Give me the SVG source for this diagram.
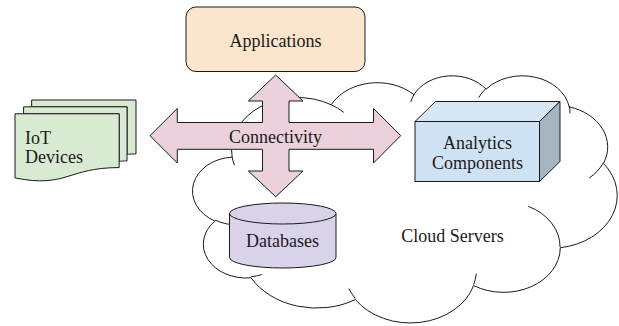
<svg xmlns="http://www.w3.org/2000/svg" width="619" height="326" viewBox="0 0 619 326">
  <style>
    .shape { stroke: #1a1a1a; stroke-width: 1; stroke-linejoin: miter; }
    .thin { fill: none; stroke: #1a1a1a; stroke-width: 1; vector-effect: non-scaling-stroke; }
    text { font-family: 'Liberation Serif', 'Times New Roman', 'DejaVu Serif', serif; font-size: 18px; fill: #1a1a1a; }
    .mid { text-anchor: middle; }
  </style>
  <rect width="619" height="326" fill="#ffffff"/>

  <!-- Cloud outline (43200-unit geometry scaled into its box) -->
  <g id="cloud-servers">
    <g transform="translate(194 75) scale(0.009792 0.005718)">
      <path fill="#ffffff" class="thin" d="M 3900 14370
        A 6753 9190 0 0 1 14006.5 5203.3
        A 5333 7267 0 0 1 22457.1 3433.5
        A 4365 5945 0 0 1 29832.1 2477
        A 4857 6595 0 0 1 38317.4 5572.2
        A 5333 7273 0 0 1 41817.9 15456
        A 6775 9220 0 0 1 37407.2 30204.7
        A 5785 7867 0 0 1 28559 36815.1
        A 6752 9215 0 0 1 16483.7 39267.1
        A 7720 10543 0 0 1 5822.9 35458.7
        A 4360 5918 0 0 1 2131.4 25537.2
        A 4345 5945 0 0 1 3900 14370 Z"/>
      <!-- inner lobe creases -->
      <path class="thin" d="M 4693 26177 A 4345 5945 0 0 1 2159.8 25380
        M 6928 34899 A 4360 5918 0 0 1 5818.9 35280.8
        M 16478 39090 A 6752 9215 0 0 1 15810 37349
        M 28827 34751 A 6752 9215 0 0 1 28560 36660
        M 34129 22954 A 5785 7867 0 0 1 37380.5 30089.7
        M 41798 15354 A 5333 7273 0 0 1 40350 18030
        M 38324 5426 A 4857 6595 0 0 1 38400 6690
        M 29078 3952 A 4857 6595 0 0 1 29819.5 2340.5
        M 22141 4720 A 4365 5945 0 0 1 22500 3331
        M 14000 5192 A 6753 9190 0 0 1 15298 6539
        M 4127 15789 A 6753 9190 0 0 1 3900 14370"/>
    </g>
    <text class="mid" x="452.5" y="241.5" font-family="Liberation Serif, serif">Cloud Servers</text>
  </g>

  <!-- Applications -->
  <g id="applications">
    <rect class="shape" x="186" y="7" width="179" height="64.5" rx="10" ry="10" fill="#fce5cd"/>
    <text class="mid" x="275.5" y="47">Applications</text>
  </g>

  <!-- IoT devices: stacked documents -->
  <g id="iot-devices">
    <path class="shape" fill="#d9ead3" d="M 31.65 106.8 L 31.65 100 L 136 100 L 136 153.97 C 131.52 153.97 127.04 154.25 127.04 154.25 L 127.04 106.8 Z"/>
    <path class="shape" fill="#d9ead3" d="M 23.58 113.78 L 23.58 106.8 L 127.04 106.8 L 127.04 160.95 C 123.1 160.95 119.17 161.32 119.17 161.32 L 119.17 113.78 Z"/>
    <path class="shape" fill="#d9ead3" d="M 15 177.93 C 67.09 188.28 67.09 167.58 119.17 167.58 L 119.17 113.78 L 15 113.78 Z"/>
    <text x="25" y="143.5">IoT</text>
    <text x="25" y="162.5">Devices</text>
  </g>

  <!-- Analytics cube -->
  <g id="analytics-components">
    <rect class="shape" x="415" y="121.5" width="124.5" height="60" fill="#cfe2f3"/>
    <path class="shape" fill="#d8e7f5" d="M 415 121.5 L 435.5 101.5 L 560 101.5 L 539.5 121.5 Z"/>
    <path class="shape" fill="#a6b5c2" d="M 539.5 121.5 L 560 101.5 L 560 161.5 L 539.5 181.5 Z"/>
    <text class="mid" x="477.5" y="148.5">Analytics</text>
    <text class="mid" x="477.5" y="168.5">Components</text>
  </g>

  <!-- Databases cylinder -->
  <g id="databases">
    <path class="shape" fill="#d9d2e9" d="M 229.5 213.5 L 229.5 257.5 A 53.25 10.5 0 0 0 336 257.5 L 336 213.5 Z"/>
    <ellipse class="shape" cx="282.75" cy="213.5" rx="53.25" ry="10.5" fill="#d9d2e9"/>
    <text class="mid" x="282.5" y="246.5">Databases</text>
  </g>

  <!-- Four-way connectivity arrow -->
  <g id="connectors">
    <g id="connectivity">
      <path class="shape" fill="#ead1dc" d="M 150 135.7 L 177.3 108.5 L 177.3 122.5 L 262.5 122.5 L 262.5 101 L 248.3 101 L 275.7 75 L 303 101 L 289 101 L 289 122.5 L 373.5 122.5 L 373.5 108.5 L 400.7 135.7 L 373.5 163 L 373.5 149.3 L 289 149.3 L 289 171 L 303 171 L 275.7 196.7 L 248.3 171 L 262.5 171 L 262.5 149.3 L 177.3 149.3 L 177.3 163 Z"/>
      <text class="mid" x="275.5" y="142.5">Connectivity</text>
    </g>
  </g>
</svg>
